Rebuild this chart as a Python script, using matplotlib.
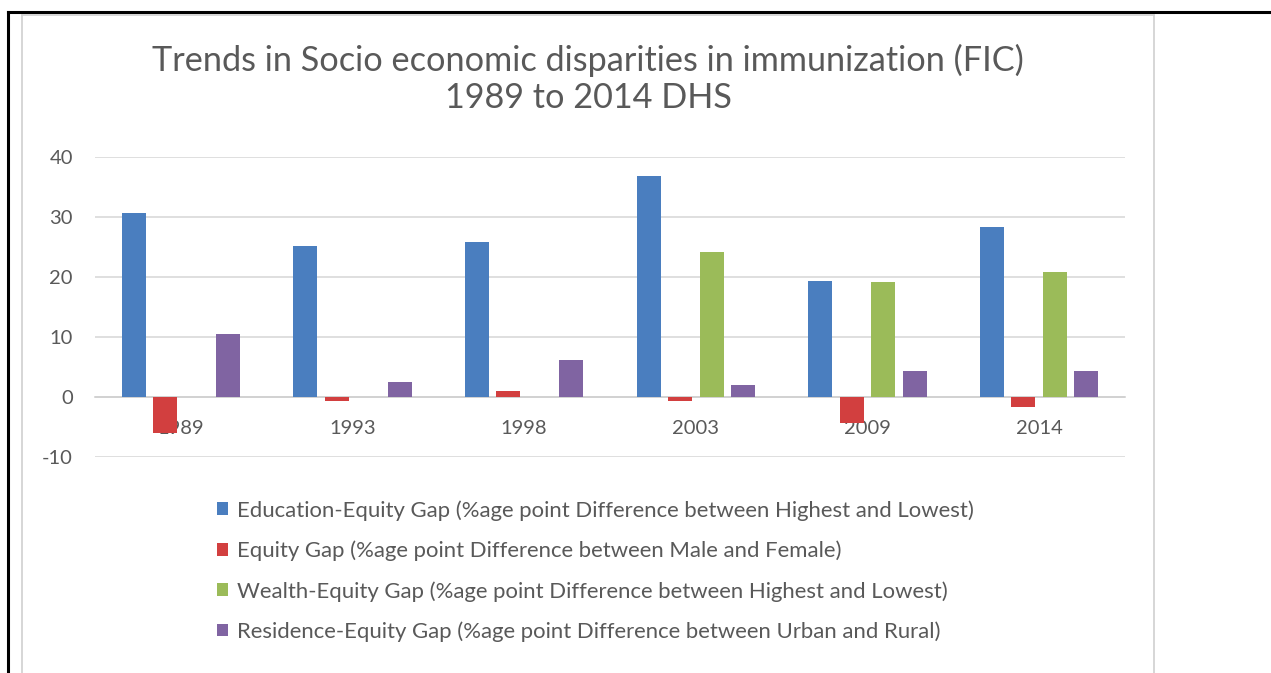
import numpy as np
import matplotlib
matplotlib.use("Agg")
import matplotlib.pyplot as plt
from matplotlib.lines import Line2D

years = ["1989", "1993", "1998", "2003", "2009", "2014"]
education_gap = [30.7, 25.1, 25.8, 36.8, 19.3, 28.3]
sex_gap = [-6.0, -0.7, 1.0, -0.7, -4.3, -1.7]
wealth_gap = [np.nan, np.nan, np.nan, 24.2, 19.1, 20.8]
residence_gap = [10.5, 2.5, 6.1, 2.0, 4.4, 4.4]
series_labels = [
    "Education-Equity Gap (%age point Difference between Highest and Lowest)",
    "Equity Gap (%age point Difference between Male and Female)",
    "Wealth-Equity Gap (%age point Difference between Highest and Lowest)",
    "Residence-Equity Gap (%age point Difference between Urban and Rural)",
]
colors = ["#4A7EBF", "#D23F3F", "#9BBB59", "#8064A2"]
title = "Trends in Socio economic disparities in immunization (FIC)\n1989 to 2014 DHS"

plt.rcParams["font.family"] = ["Lato", "DejaVu Sans"]
plt.rcParams["axes.unicode_minus"] = False
W, H = 1271, 673
fig = plt.figure(figsize=(W / 100, H / 100), dpi=100)

def fx(px):
    return px / W

def fy(py):
    return 1 - py / H

# outer borders
fig.add_artist(Line2D([fx(8), 1.0], [fy(12), fy(12)], color="black", lw=2.2, transform=fig.transFigure))
fig.add_artist(Line2D([fx(8), fx(8)], [fy(12), 0.0], color="black", lw=2.2, transform=fig.transFigure))
# chart box borders
grey_b = "#D0D0D0"
fig.add_artist(Line2D([fx(22), fx(1154)], [fy(14.5), fy(14.5)], color=grey_b, lw=1.2, transform=fig.transFigure))
fig.add_artist(Line2D([fx(22), fx(22)], [fy(14.5), 0.0], color=grey_b, lw=1.2, transform=fig.transFigure))
fig.add_artist(Line2D([fx(1154), fx(1154)], [fy(14.5), 0.0], color=grey_b, lw=1.2, transform=fig.transFigure))

ax = fig.add_axes([fx(95), fy(457), fx(1125) - fx(95), fy(157) - fy(457)])
x = np.arange(len(years))
slot = 0.183
bw = 0.14
series = [education_gap, sex_gap, wealth_gap, residence_gap]
handles = []
for i, (vals, c, lab) in enumerate(zip(series, colors, series_labels)):
    b = ax.bar(x + (i - 1.5) * slot, vals, width=bw, color=c, label=lab, zorder=2)
    handles.append(b)

ax.set_xlim(-0.5, len(years) - 0.5)
ax.set_ylim(-10, 40)
ax.set_yticks([-10, 0, 10, 20, 30, 40])
ax.set_axisbelow(True)
ax.grid(axis="y", color="#D9D9D9", lw=1.2)
for s in ["top", "right", "left"]:
    ax.spines[s].set_visible(False)
ax.spines["bottom"].set_position(("data", 0))
ax.spines["bottom"].set_color("#D0D0D0")
ax.spines["bottom"].set_linewidth(1.2)
ax.spines["bottom"].set_zorder(1)
ax.set_xticks(x)
ax.set_xticklabels(years)
ax.tick_params(axis="x", length=0, pad=16.5, labelsize=14.5, labelcolor="#595959")
ax.tick_params(axis="y", length=0, pad=16, labelsize=14.5, labelcolor="#595959")

fig.text(fx(588), fy(79), title, ha="center", va="center", fontsize=24.7,
         color="#595959", linespacing=1.17)

leg = fig.legend(handles=handles, loc="upper left", bbox_to_anchor=(fx(217), fy(500)),
                 frameon=False, fontsize=15.9, labelcolor="#595959",
                 handlelength=0.5, handleheight=0.5, handletextpad=0.41,
                 labelspacing=0.9, borderaxespad=0, borderpad=0)

fig.savefig("out.png", dpi=100)
